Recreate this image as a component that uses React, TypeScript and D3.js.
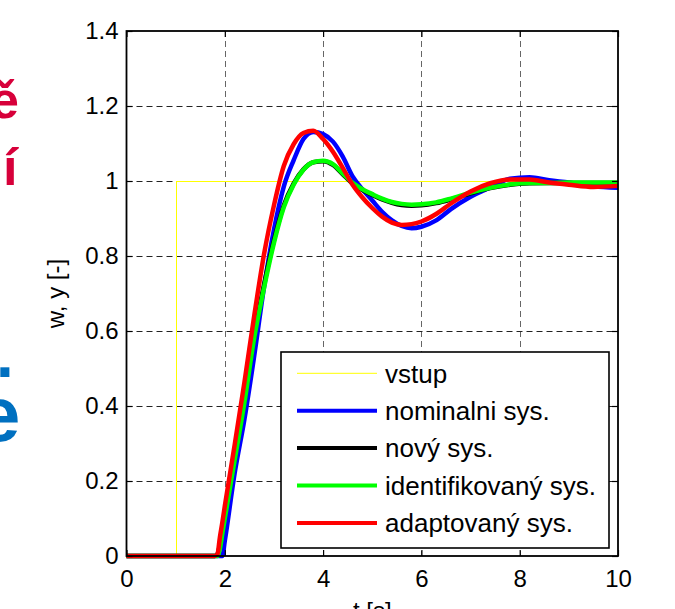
import React, { useEffect, useRef } from 'react';
import * as d3 from 'd3';

// time grid [s] and responses
const T = [0, 1.8, 1.85, 1.9, 1.95, 2.0, 2.2, 2.4, 2.6, 2.8, 3.0, 3.2, 3.4, 3.6, 3.8, 4.0, 4.2, 4.4, 4.6, 4.8,
  5.0, 5.2, 5.4, 5.6, 5.8, 6.0, 6.3, 6.6, 7.0, 7.4, 7.8, 8.2, 8.6, 9.0, 9.5, 10];
const NOMINAL = [0, 0, 0, 0, 0, 0.04, 0.22, 0.365, 0.535, 0.718, 0.87, 0.985, 1.055, 1.112, 1.131, 1.125, 1.105, 1.065, 1.012, 0.978,
  0.948, 0.918, 0.895, 0.88, 0.874, 0.878, 0.895, 0.925, 0.958, 0.983, 1.006, 1.01, 1.002, 0.996, 0.986, 0.982];
const NOVY = [0, 0, 0.005, 0.03, 0.07, 0.11, 0.262, 0.418, 0.59, 0.725, 0.842, 0.935, 0.993, 1.031, 1.05, 1.053, 1.043, 1.018, 0.993, 0.976,
  0.963, 0.951, 0.942, 0.936, 0.934, 0.935, 0.941, 0.951, 0.967, 0.981, 0.99, 0.994, 0.995, 0.995, 0.995, 0.995];
const IDENT = [0, 0, 0, 0.02, 0.06, 0.1, 0.255, 0.41, 0.583, 0.716, 0.835, 0.93, 0.99, 1.03, 1.05, 1.054, 1.045, 1.02, 0.995, 0.978,
  0.965, 0.953, 0.944, 0.939, 0.937, 0.938, 0.943, 0.953, 0.969, 0.982, 0.991, 0.995, 0.995, 0.996, 0.996, 0.996];
const ADAPT = [0, 0, 0.005, 0.05, 0.09, 0.133, 0.296, 0.464, 0.642, 0.806, 0.935, 1.04, 1.098, 1.128, 1.134, 1.112, 1.078, 1.035, 0.99, 0.956,
  0.928, 0.905, 0.889, 0.883, 0.885, 0.892, 0.912, 0.94, 0.972, 0.994, 1.004, 1.004, 0.996, 0.99, 0.984, 0.987];

// reference step w
const STEP_T = [0, 1, 1, 10];
const STEP_W = [0, 0, 1, 1];

const X_TICKS = [0, 2, 4, 6, 8, 10];
const X_LABELS = ['0', '2', '4', '6', '8', '10'];
const Y_TICKS = [0, 0.2, 0.4, 0.6, 0.8, 1, 1.2, 1.4];
const Y_LABELS = ['0', '0.2', '0.4', '0.6', '0.8', '1', '1.2', '1.4'];

const NAMES = ['vstup', 'nominalni sys.', 'nový sys.', 'identifikovaný sys.', 'adaptovaný sys.'];
const COLORS = ['#ffff00', '#0000ff', '#000000', '#00ff00', '#ff0000'];

const W = 675;
const H = 609;
const FONT = '"Liberation Sans", Arial, sans-serif';

export default function App() {
  const ref = useRef<SVGSVGElement>(null);

  useEffect(() => {
    const svg = d3.select(ref.current);
    svg.selectAll('*').remove();

    const x = d3.scaleLinear().domain([0, 10]).range([126.5, 618]);
    const y = d3.scaleLinear().domain([0, 1.4]).range([556, 31]);

    // cut-off slide text on the left
    const frag = svg.append('g').attr('font-family', FONT).attr('font-weight', 'bold');
    frag.append('text').attr('x', -10).attr('y', 118).attr('font-size', 52).attr('fill', '#d7003a').text('ě');
    frag.append('text').attr('x', 3).attr('y', 185).attr('font-size', 52).attr('fill', '#d7003a').text('í');
    frag.append('text').attr('x', -4).attr('y', 377).attr('font-size', 64).attr('fill', '#0070c0').text('.');
    frag.append('text').attr('x', -23).attr('y', 441).attr('font-size', 78).attr('fill', '#0070c0').text('e');

    // grid
    const grid = svg.append('g').attr('stroke-dasharray', '6,4').attr('stroke-width', 1).attr('fill', 'none');
    grid.selectAll('line.v')
      .data(X_TICKS.filter(d => d > 0 && d < 10))
      .join('line')
      .attr('class', 'v')
      .attr('x1', d => Math.round(x(d)) + 0.5).attr('x2', d => Math.round(x(d)) + 0.5)
      .attr('y1', y(1.4)).attr('y2', y(0))
      .attr('stroke', '#666');
    grid.selectAll('line.h')
      .data(Y_TICKS.filter(d => d > 0 && d < 1.4))
      .join('line')
      .attr('class', 'h')
      .attr('x1', x(0)).attr('x2', x(10))
      .attr('y1', d => Math.round(y(d)) + 0.5).attr('y2', d => Math.round(y(d)) + 0.5)
      .attr('stroke', '#222');

    // legend box (covers grid)
    const lg = svg.append('g');
    lg.append('rect')
      .attr('x', 281).attr('y', 352).attr('width', 328).attr('height', 196)
      .attr('fill', '#fff').attr('stroke', '#000').attr('stroke-width', 1.6);

    // curves
    const line = d3.line<number>()
      .x((d, i) => x(T[i]))
      .y(d => y(d))
      .curve(d3.curveMonotoneX);
    const step = d3.line<number>()
      .x((d, i) => Math.round(x(STEP_T[i])) + 0.5)
      .y(d => Math.round(y(d)) + 0.5);

    const plot = svg.append('g').attr('fill', 'none').attr('stroke-linejoin', 'round');
    plot.append('path').attr('d', step(STEP_W)).attr('stroke', COLORS[0]).attr('stroke-width', 1)
      .attr('shape-rendering', 'crispEdges');
    [NOMINAL, NOVY, IDENT, ADAPT].forEach((s, i) => {
      plot.append('path').attr('d', line(s)).attr('stroke', COLORS[i + 1]).attr('stroke-width', 4.5);
    });

    // axes with inward ticks
    const axG = svg.append('g');
    const bottom = axG.append('g').attr('transform', `translate(0,${y(0)})`)
      .call(d3.axisBottom(x).tickValues(X_TICKS).tickFormat((d, i) => X_LABELS[i]).tickSize(-6).tickPadding(14));
    const left = axG.append('g').attr('transform', `translate(${x(0)},0)`)
      .call(d3.axisLeft(y).tickValues(Y_TICKS).tickFormat((d, i) => Y_LABELS[i]).tickSize(-6).tickPadding(8));
    axG.append('g').attr('transform', `translate(0,${y(1.4)})`)
      .call(d3.axisTop(x).tickValues(X_TICKS).tickFormat(() => '').tickSize(-6));
    axG.append('g').attr('transform', `translate(${x(10)},0)`)
      .call(d3.axisRight(y).tickValues(Y_TICKS).tickFormat(() => '').tickSize(-6));
    axG.selectAll('.domain').remove();
    axG.selectAll('.tick line').attr('stroke', '#000').attr('stroke-width', 1.2);
    [bottom, left].forEach(g => g.attr('font-size', 24).attr('font-family', FONT));
    axG.selectAll('.tick text').attr('fill', '#000');

    axG.append('rect')
      .attr('x', x(0)).attr('y', y(1.4))
      .attr('width', x(10) - x(0)).attr('height', y(0) - y(1.4))
      .attr('fill', 'none').attr('stroke', '#000').attr('stroke-width', 1.8);

    // axis titles
    svg.append('text')
      .attr('transform', `translate(64,${(y(0) + y(1.4)) / 2}) rotate(-90)`)
      .attr('text-anchor', 'middle')
      .attr('font-family', FONT).attr('font-size', 24)
      .text('w, y [-]');
    svg.append('text')
      .attr('x', (x(0) + x(10)) / 2).attr('y', 619)
      .attr('text-anchor', 'middle')
      .attr('font-family', FONT).attr('font-size', 24)
      .text('t [s]');

    // legend entries
    const rowY = (i: number) => 373.3 + i * 37.4;
    const rows = lg.selectAll('g.row').data(NAMES).join('g').attr('class', 'row');
    rows.append('line')
      .attr('x1', 297).attr('x2', 377)
      .attr('y1', (d, i) => rowY(i)).attr('y2', (d, i) => rowY(i))
      .attr('stroke', (d, i) => COLORS[i])
      .attr('stroke-width', (d, i) => (i === 0 ? 1 : 4));
    rows.append('text')
      .attr('x', 385).attr('y', (d, i) => rowY(i))
      .attr('dy', '0.36em')
      .attr('font-family', FONT).attr('font-size', 26)
      .text(d => d);
  }, []);

  return (
    <svg ref={ref} width={W} height={H}
      style={{ position: 'absolute', left: 0, top: 0, background: '#fff', display: 'block' }} />
  );
}
